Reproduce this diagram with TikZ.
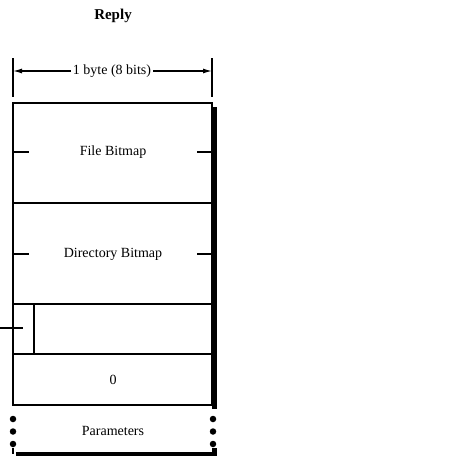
\documentclass[tikz,border=0pt]{standalone}
\usepackage{fontspec}
\setmainfont{Liberation Serif}
\usetikzlibrary{arrows.meta}
\begin{document}
\begin{tikzpicture}[x=1pt,y=-1pt,
  rule/.style={line width=1.2pt},
  shadowline/.style={line width=4.5pt},
  lbl/.style={font=\fontsize{14}{16}\selectfont, inner sep=0pt},
  dimarrow/.style={line width=1.2pt,-{Latex[length=9pt,width=5pt]}},
  dot/.style={circle, fill=black, inner sep=0pt, minimum size=6.5pt}]
\useasboundingbox (0,0) rectangle (452,472);
% title
\node[font=\bfseries\fontsize{15}{17}\selectfont, inner sep=0pt] (title) at (113,16) {Reply};
% dimension
\coordinate (dl) at (13,71);
\coordinate (dr) at (212,71);
\draw[rule] (13,58) -- (13,97);
\draw[rule] (212,58) -- (212,97);
\node[lbl, inner xsep=2pt] (dim) at (112,71) {1 byte (8 bits)};
\draw[dimarrow] (dim.west) -- (dl);
\draw[dimarrow] (dim.east) -- (dr);
% main box
\coordinate (tl) at (13,103);
\coordinate (br) at (212,405);
\draw[rule] (tl) rectangle (br);
\draw[rule] (13,203) -- (212,203);
\draw[rule] (13,304) -- (212,304);
\draw[rule] (13,354) -- (212,354);
\draw[rule] (34,304) -- (34,354);
% ticks
\draw[rule] (13,152) -- (29,152);
\draw[rule] (197,152) -- (212,152);
\draw[rule] (13,254) -- (29,254);
\draw[rule] (197,254) -- (212,254);
\draw[rule] (0,328) -- (23,328);
% shadow
\draw[shadowline] (214.5,107) -- (214.5,409);
% labels
\node[lbl] (file) at (113,152) {File Bitmap};
\node[lbl] (dir) at (113,254) {Directory Bitmap};
\node[lbl] (zero) at (113,380) {0};
\node[lbl] (param) at (113,431) {Parameters};
% parameter dots
\foreach \y [count=\i] in {419,431.5,444} {
  \node[dot] (ld\i) at (13,\y) {};
  \node[dot] (rd\i) at (213,\y) {};
}
% bottom bracket
\draw[rule] (13,448) -- (13,454);
\draw[shadowline] (16,454) -- (216.75,454);
\draw[shadowline] (214.5,448) -- (214.5,456.25);
\end{tikzpicture}
\end{document}
